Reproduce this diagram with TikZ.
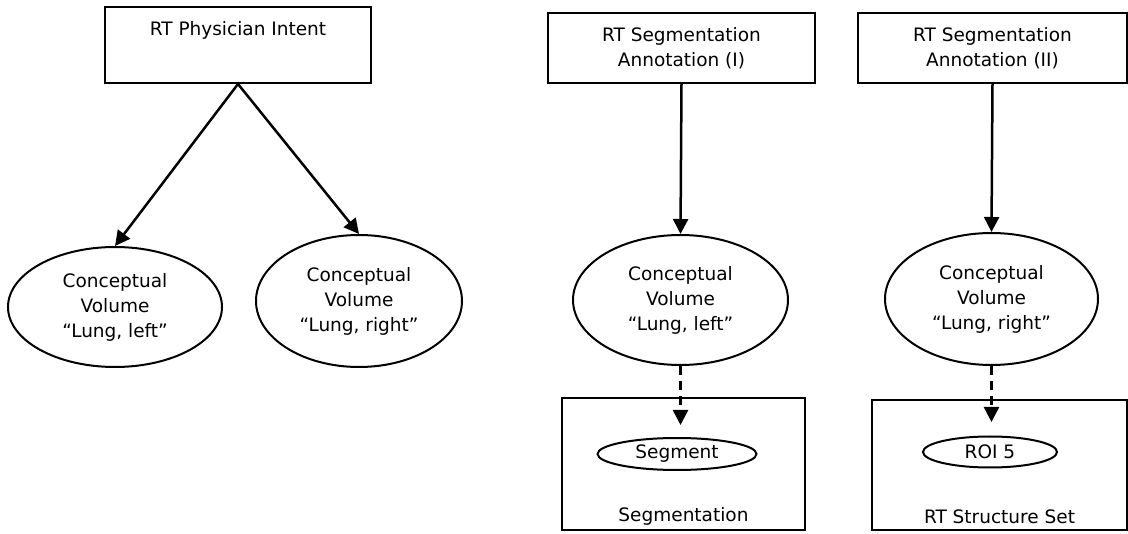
\documentclass[tikz,border=0pt]{standalone}
\usepackage{fontspec}
\setmainfont{DejaVu Sans}
\usetikzlibrary{shapes.geometric,arrows.meta}

\tikzset{
  box/.style={draw, line width=2pt, inner sep=0pt, align=center},
  vol/.style={draw, ellipse, line width=2pt, inner sep=0pt, align=center},
  caption/.style={inner sep=0pt, align=center},
  link/.style={line width=2.5pt, -{Triangle[length=15pt,width=15pt]}},
  weaklink/.style={link, dash pattern=on 9pt off 6pt},
}

\begin{document}
\begin{tikzpicture}[x=1pt, y=-1pt, font=\fontsize{18.5}{25}\selectfont]
\useasboundingbox (0,0) rectangle (1128,534);

% physician intent branch
\node[box, minimum width=266pt, minimum height=76pt] (pi) at (238,45) {RT Physician Intent\\[1pt]\strut};
\node[vol, minimum width=214pt, minimum height=120pt] (cvl) at (115,307) {Conceptual\\Volume\\“Lung, left”};
\node[vol, minimum width=206pt, minimum height=132pt] (cvr) at (359,301) {Conceptual\\Volume\\“Lung, right”};
\draw[link] (pi.south) -- (cvl.north);
\draw[link] (pi.south) -- (cvr.north);

% segmentation annotation (I)
\node[box, minimum width=267pt, minimum height=70pt] (sa1) at (681.5,48) {RT Segmentation\\Annotation (I)};
\node[vol, minimum width=215pt, minimum height=130pt] (cv1) at (680.5,300) {Conceptual\\Volume\\“Lung, left”};
\node[box, minimum width=243pt, minimum height=132pt] (segset) at (683.5,464) {};
\node[vol, minimum width=159pt, minimum height=32pt] (seg) at (677,454) {Segment};
\node[caption] (segcap) at (683.5,516) {Segmentation};
\coordinate (seghit) at (680.5,425);
\draw[link] (sa1.south) -- (cv1.north);
\draw[weaklink] (cv1.south) -- (seghit);

% segmentation annotation (II)
\node[box, minimum width=269pt, minimum height=70pt] (sa2) at (992.5,48) {RT Segmentation\\Annotation (II)};
\node[vol, minimum width=213pt, minimum height=132pt] (cv2) at (991.5,299) {Conceptual\\Volume\\“Lung, right”};
\node[box, minimum width=255pt, minimum height=130pt] (rtss) at (999.5,465) {};
\node[vol, minimum width=134pt, minimum height=31pt] (roi) at (990,452) {ROI 5};
\node[caption] (rtsscap) at (999.5,517) {RT Structure Set};
\coordinate (roihit) at (991.5,422);
\draw[link] (sa2.south) -- (cv2.north);
\draw[weaklink] (cv2.south) -- (roihit);
\end{tikzpicture}
\end{document}
